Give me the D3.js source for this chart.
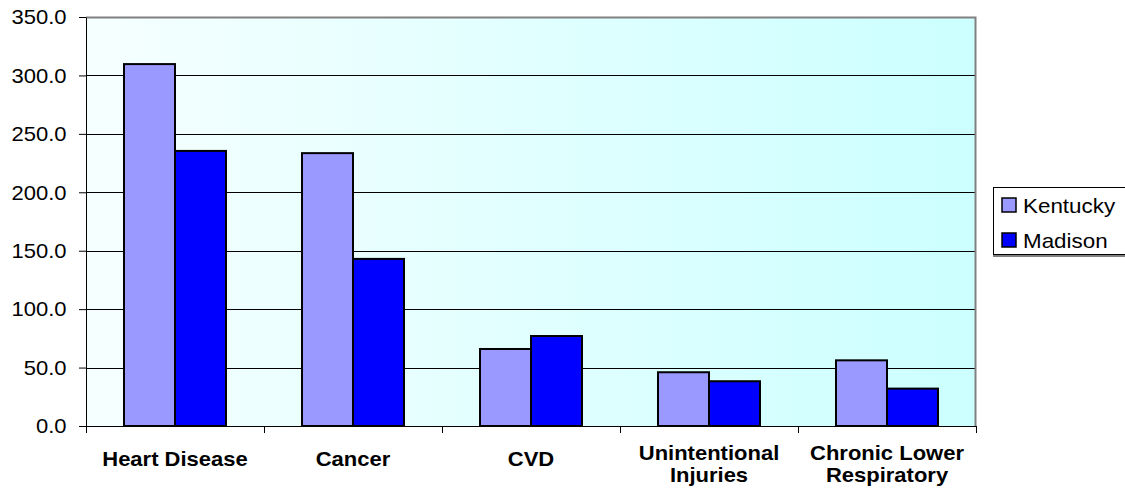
<!DOCTYPE html>
<html>
<head>
<meta charset="utf-8">
<script src="https://cdn.jsdelivr.net/npm/d3@7"></script>
<style>
  body { margin: 0; background: #fff; overflow: hidden; }
  svg { display: block; font-family: Arial, "Liberation Sans", sans-serif; }
</style>
</head>
<body>
<svg id="chart" width="1125" height="504"></svg>
<script>
const categories = [["Heart Disease"], ["Cancer"], ["CVD"], ["Unintentional", "Injuries"], ["Chronic Lower", "Respiratory"]];
const seriesNames = ["Kentucky", "Madison"];
const kentucky = [309.7, 233.5, 65.9, 46.0, 56.2];
const madison = [235.4, 143.0, 77.0, 38.3, 32.0];
const yTicks = [0, 50, 100, 150, 200, 250, 300, 350];
const colors = ["#9999ff", "#0000ff"];

const svg = d3.select("#chart");
const margin = { left: 86, top: 17, right: 149, bottom: 78 };
const W = 1125 - margin.left - margin.right;
const H = 504 - margin.top - margin.bottom;
const TS = 1.1;

const defs = svg.append("defs");
const grad = defs.append("linearGradient").attr("id", "bg").attr("x1", "0").attr("x2", "1").attr("y1", "0").attr("y2", "0");
grad.append("stop").attr("offset", "0").attr("stop-color", "#f6ffff");
grad.append("stop").attr("offset", "1").attr("stop-color", "#ccffff");

const g = svg.append("g").attr("transform", `translate(${margin.left},${margin.top})`);

const catKeys = categories.map(c => c.join(" "));
const x0 = d3.scaleBand().domain(catKeys).range([0, W]).paddingInner(0).paddingOuter(0);
const x1 = d3.scaleBand().domain(seriesNames).range([0, x0.bandwidth()]).paddingInner(0).paddingOuter(0.745);
const y = d3.scaleLinear().domain([0, 350]).range([H, 0]);

g.append("rect").attr("x", 0).attr("y", 0).attr("width", W).attr("height", H).attr("fill", "url(#bg)");

// gridlines
g.append("g").selectAll("line").data(yTicks.filter(t => t > 0 && t < 350)).join("line")
  .attr("x1", 0).attr("x2", W)
  .attr("y1", d => Math.round(y(d)) + 0.5).attr("y2", d => Math.round(y(d)) + 0.5)
  .attr("stroke", "#000").attr("stroke-width", 1);

// plot border top/right
g.append("path").attr("d", `M0,0.5H${W - 0.5}V${H}`).attr("fill", "none").attr("stroke", "#808080").attr("stroke-width", 2);

// bars
const data = catKeys.map((k, i) => ({ key: k, vals: [kentucky[i], madison[i]] }));
const grp = g.append("g").selectAll("g").data(data).join("g")
  .attr("transform", d => `translate(${x0(d.key)},0)`);
grp.selectAll("rect").data(d => d.vals.map((v, j) => ({ s: seriesNames[j], v, j }))).join("rect")
  .attr("x", d => x1(d.s)).attr("width", x1.bandwidth())
  .attr("y", d => y(d.v)).attr("height", d => y(0) - y(d.v))
  .attr("fill", d => colors[d.j]).attr("stroke", "#000").attr("stroke-width", 2);

// y axis
const yAxis = g.append("g").call(d3.axisLeft(y).tickValues(yTicks).tickFormat(d3.format(".1f")).tickSize(7).tickSizeOuter(0));
yAxis.select(".domain").attr("stroke", "#000");
yAxis.selectAll(".tick line").attr("stroke", "#000");
yAxis.selectAll(".tick text").attr("font-size", 20).attr("fill", "#000").attr("font-family", "Arial, 'Liberation Sans', sans-serif")
  .attr("x", -19.5 / TS).attr("dy", "0.34em").attr("transform", `scale(${TS},1)`);

// x axis
const xAxis = g.append("g").attr("transform", `translate(0,${H})`)
  .call(d3.axisBottom(x0).tickSize(0).tickFormat(""));
xAxis.select(".domain").attr("stroke", "#000");
xAxis.selectAll(".tick").remove();
const bounds = d3.range(catKeys.length + 1).map(i => i * x0.step());
xAxis.append("g").selectAll("line").data(bounds).join("line")
  .attr("x1", d => Math.round(d) + 0.5).attr("x2", d => Math.round(d) + 0.5)
  .attr("y1", 0).attr("y2", 7).attr("stroke", "#000");

// category labels
const lab = g.append("g").selectAll("g").data(categories).join("g")
  .attr("transform", (d, i) => `translate(${x0(catKeys[i]) + x0.bandwidth() / 2},${d.length === 1 ? 466 - margin.top : 460 - margin.top}) scale(${TS},1)`);
lab.selectAll("text").data(d => d).join("text")
  .attr("x", 0).attr("y", (d, i) => i * 22)
  .attr("text-anchor", "middle").attr("font-weight", "bold").attr("font-size", 20).attr("fill", "#000")
  .text(d => d);

// legend
const lg = svg.append("g").attr("transform", "translate(993,187)");
lg.append("rect").attr("x", 0.5).attr("y", 0.5).attr("width", 140).attr("height", 67).attr("fill", "#fff").attr("stroke", "#000");
lg.append("line").attr("x1", 0).attr("x2", 145).attr("y1", 69).attr("y2", 69).attr("stroke", "#808080").attr("stroke-width", 2);
const items = lg.selectAll("g.item").data(seriesNames).join("g").attr("class", "item")
  .attr("transform", (d, i) => `translate(0,${i * 35})`);
items.append("rect").attr("x", 9).attr("y", 11).attr("width", 14).attr("height", 14)
  .attr("fill", (d, i) => colors[i]).attr("stroke", "#000").attr("stroke-width", 1.5);
items.append("text").attr("transform", "translate(30,25.5) scale(1.12,1)")
  .attr("font-size", 20).attr("fill", "#000").text(d => d);
</script>
</body>
</html>
